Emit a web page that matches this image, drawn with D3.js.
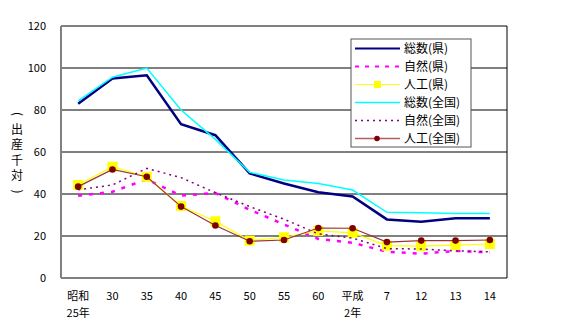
<!DOCTYPE html>
<html><head><meta charset="utf-8">
<script src="https://cdn.jsdelivr.net/npm/d3@7"></script>
<style>body{margin:0;background:#fff}svg{display:block}text{font-family:"Noto Sans CJK JP","Noto Sans",sans-serif;}</style>
</head><body><svg id="c" width="580" height="326"></svg>
<script>
const categories = ["昭和\n25年","30","35","40","45","50","55","60","平成\n2年","7","12","13","14"];
const totalPref = [83,95,96.5,73.2,68,49.8,45,40.8,38.8,27.9,26.8,28.4,28.4];
const naturalPref = [39.2,41.1,47,39.2,40.5,32.5,25.5,18.6,16.8,12.5,11.6,12.9,12.2];
const artificialPref = [44.3,53,48.2,34.3,27,17.8,19.4,22.4,21.5,15.4,15.2,15.7,16.2];
const totalNation = [84.4,95.6,100,80,66,50.3,46.7,45,41.9,31.3,31.1,30.7,30.7];
const naturalNation = [42,44.3,52.2,47.8,40.6,34,28,21,19,14,13.8,12.9,12.5];
const artificialNation = [43.5,51.7,48.2,34,25,17.5,18.1,23.8,23.7,17.1,17.8,17.8,18.1];
const yTicks = [0,20,40,60,80,100,120];
const seriesNames = ["総数(県)","自然(県)","人工(県)","総数(全国)","自然(全国)","人工(全国)"];

const svg = d3.select("#c");
const L=61, R=507, T=26, B=278;
const x = d3.scalePoint().domain(d3.range(categories.length)).range([L,R]).padding(0.5);
const y = d3.scaleLinear().domain([0,120]).range([B,T]);

// gridlines
svg.append("g").selectAll("line").data(yTicks.filter(d=>d>0)).join("line")
  .attr("x1",L).attr("x2",R).attr("y1",d=>y(d)).attr("y2",d=>y(d))
  .attr("stroke",d=>d===20?"#808080":"#000").attr("stroke-width",d=>d===20?2:1);
// frame
svg.append("line").attr("x1",R).attr("x2",R).attr("y1",T).attr("y2",B).attr("stroke","#000");
svg.append("line").attr("x1",L).attr("x2",R).attr("y1",B).attr("y2",B).attr("stroke","#000");
svg.append("line").attr("x1",L).attr("x2",L).attr("y1",T).attr("y2",B).attr("stroke","#808080").attr("stroke-width",2);

// y tick labels
svg.append("g").selectAll("text").data(yTicks).join("text")
  .attr("x",46).attr("y",d=>y(d)).attr("dy","0.35em").attr("text-anchor","end")
  .attr("font-size",11).attr("fill","#000").text(d=>d);

// x labels
const xl = svg.append("g");
categories.forEach((c,i)=>{
  const parts=c.split("\n");
  parts.forEach((p,j)=>{
    xl.append("text").attr("x",x(i)).attr("y",296+j*17).attr("dy","0.35em")
      .attr("text-anchor","middle").attr("font-size",11).text(p);
  });
});

// y axis title (vertical)
const ych = ["(","出","産","千","対",")"];
ych.forEach((c,i)=>{
  const cy = 114+i*15.5;
  const t = svg.append("text").attr("x",17).attr("y",cy).attr("dy","0.35em")
    .attr("text-anchor","middle").attr("font-size",12).text(c);
  if(c==="("||c===")") t.attr("transform",`rotate(90,17,${cy})`);
});

const line = d3.line().x((d,i)=>x(i)).y(d=>y(d));
function drawLine(data,color,w,dash){
  svg.append("path").datum(data).attr("d",line).attr("fill","none")
    .attr("stroke",color).attr("stroke-width",w).attr("stroke-dasharray",dash||null);
}
drawLine(totalPref,"#000080",2.5);
drawLine(naturalPref,"#ff00ff",2.5,"4,7");
drawLine(artificialPref,"#ffff00",1.2);
svg.append("g").selectAll("rect").data(artificialPref).join("rect")
  .attr("x",(d,i)=>x(i)-5).attr("y",d=>y(d)-5).attr("width",10).attr("height",10).attr("fill","#ffff00");
drawLine(totalNation,"#00ffff",1.5);
drawLine(naturalNation,"#800080",1.5,"2,4");
drawLine(artificialNation,"#993333",1.2);
svg.append("g").selectAll("circle").data(artificialNation).join("circle")
  .attr("cx",(d,i)=>x(i)).attr("cy",d=>y(d)).attr("r",3.3).attr("fill","#800000");

// legend
const lg = svg.append("g");
lg.append("rect").attr("x",351).attr("y",39).attr("width",120).attr("height",108)
  .attr("fill","#fff").attr("stroke","#555").attr("stroke-width",1);
const ly = d=>48.5+d*18;
const styles = [
  {c:"#000080",w:2,dash:null},
  {c:"#ff00ff",w:2,dash:"4,6"},
  {c:"#ffff00",w:1.2,dash:null,m:"sq"},
  {c:"#00ffff",w:1.5,dash:null},
  {c:"#800080",w:1.5,dash:"2,4"},
  {c:"#b06060",w:1.5,dash:null,m:"dot"}
];
seriesNames.forEach((n,i)=>{
  const s=styles[i];
  lg.append("line").attr("x1",355).attr("x2",400).attr("y1",ly(i)).attr("y2",ly(i))
    .attr("stroke",s.c).attr("stroke-width",s.w).attr("stroke-dasharray",s.dash);
  if(s.m==="sq") lg.append("rect").attr("x",374).attr("y",ly(i)-3.5).attr("width",7).attr("height",7).attr("fill","#ffff00");
  if(s.m==="dot") lg.append("circle").attr("cx",377).attr("cy",ly(i)).attr("r",2.8).attr("fill","#800000");
  lg.append("text").attr("x",404).attr("y",ly(i)).attr("dy","0.35em").attr("font-size",12).text(n);
});
</script></body></html>
